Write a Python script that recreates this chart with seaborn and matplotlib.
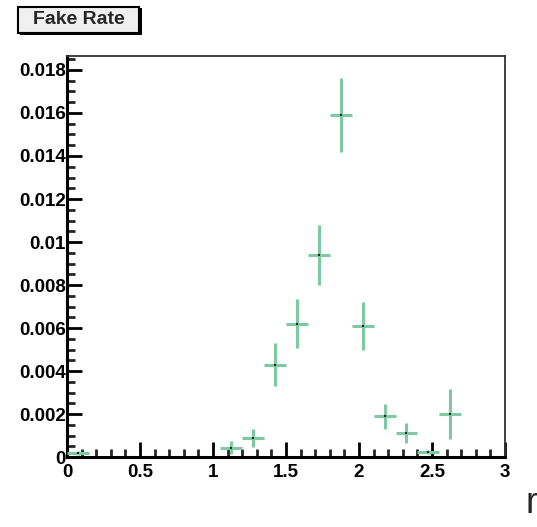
import numpy as np
import pandas as pd
import matplotlib
matplotlib.use('Agg')
import matplotlib.pyplot as plt
import seaborn as sns
from matplotlib.ticker import MultipleLocator
from matplotlib.patches import Rectangle

# bin centres, fake rate and its uncertainty
bin_centers = [0.075, 1.125, 1.275, 1.425, 1.575, 1.725, 1.875, 2.025, 2.175, 2.325, 2.475, 2.625]
fake_rate = [0.0002, 0.00043, 0.00088, 0.0043, 0.0062, 0.0094, 0.0159, 0.0061, 0.0019, 0.00113, 0.00022, 0.0020]
rate_err = [0.0001, 0.0003, 0.0004, 0.00098, 0.00115, 0.0014, 0.00172, 0.0011, 0.00058, 0.00046, 0.0001, 0.00115]
bin_half_width = 0.075

x_labels = ['0', '0.5', '1', '1.5', '2', '2.5', '3']
y_labels = ['0', '0.002', '0.004', '0.006', '0.008', '0.01',
            '0.012', '0.014', '0.016', '0.018']

df = pd.DataFrame({'x': bin_centers, 'rate': fake_rate, 'err': rate_err})

sns.set_style('white')
plt.rcParams['font.family'] = ['Liberation Sans', 'DejaVu Sans']
plt.rcParams['font.weight'] = 'bold'

green = '#7cc9a2'

fig = plt.figure(figsize=(5.37, 5.27), dpi=100)
ax = fig.add_axes([0.1248, 0.1328, 0.8156, 0.7609])

ax.errorbar(df['x'], df['rate'], yerr=df['err'], xerr=bin_half_width,
            fmt='none', ecolor=green, elinewidth=2.2, capsize=0, zorder=3)
sns.scatterplot(data=df, x='x', y='rate', ax=ax, color='#222222', s=3,
                marker='s', linewidth=0, zorder=4, legend=False)

ax.set_xlim(0, 3)
ax.set_ylim(0, 0.01865)
ax.set_xlabel('')
ax.set_ylabel('')

ax.set_xticks(np.arange(0, 3.01, 0.5))
ax.set_xticklabels(x_labels)
ax.set_yticks(np.arange(0, 0.0181, 0.002))
ax.set_yticklabels(y_labels)
ax.xaxis.set_minor_locator(MultipleLocator(0.1))
ax.yaxis.set_minor_locator(MultipleLocator(0.0005))

ax.tick_params(axis='both', which='major', direction='in', length=11, width=2,
               labelsize=13.5, colors='black', bottom=True, left=True,
               top=False, right=False)
ax.tick_params(axis='both', which='minor', direction='in', length=5.5, width=2,
               bottom=True, left=True, top=False, right=False)
ax.tick_params(axis='y', which='major', pad=1)
ax.tick_params(axis='x', which='major', pad=5)
for lab in ax.get_xticklabels() + ax.get_yticklabels():
    lab.set_fontweight('bold')

for side in ['left', 'bottom']:
    ax.spines[side].set_linewidth(2.2)
    ax.spines[side].set_color('black')
for side in ['top', 'right']:
    ax.spines[side].set_linewidth(1.3)
    ax.spines[side].set_color('#333333')

# title box with a drop shadow, in figure pixels
W, H = 537, 527
fig.patches.append(Rectangle((20 / W, 1 - 35 / H), 122 / W, 27 / H,
                             transform=fig.transFigure, facecolor='black',
                             edgecolor='black', linewidth=0))
fig.patches.append(Rectangle((18 / W, 1 - 33 / H), 121 / W, 26 / H,
                             transform=fig.transFigure, facecolor='#f0f0f0',
                             edgecolor='black', linewidth=1.5))
fig.text(79 / W, 1 - 20 / H, 'Fake Rate', fontsize=14, fontweight='bold',
         ha='center', va='center')

# clipped axis label at the edge
fig.text(0.978, 0.045, 'r', fontsize=26, fontweight='normal',
         ha='left', va='center')

fig.savefig('out.png', dpi=100)
